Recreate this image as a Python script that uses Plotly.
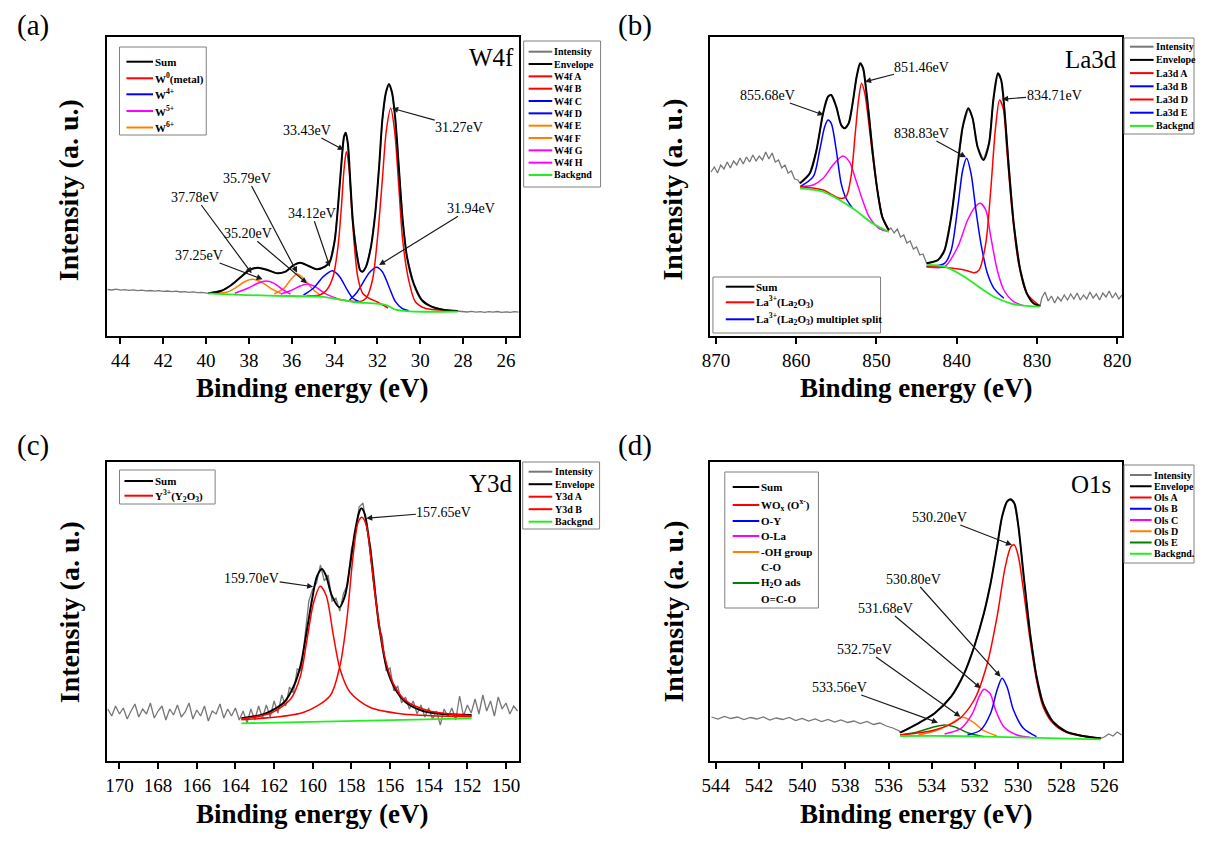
import plotly.graph_objects as go

# ===================== DATA =====================
# ---- Panel (a) W4f (x: binding energy eV, y: intensity a.u.) ----
A_INT_LEFT_X = [44.6, 44.4, 44.2, 44.0, 43.8, 43.6, 43.4, 43.2, 43.0, 42.8, 42.6, 42.4,
                42.2, 42.0, 41.8, 41.6, 41.4, 41.2, 41.0, 40.8, 40.6, 40.4, 40.2, 40.0]
A_INT_LEFT_Y = [46.5, 46.0, 46.8, 45.8, 46.3, 45.6, 46.1, 45.3, 45.9, 45.1, 45.5, 44.8,
                45.3, 44.6, 45.0, 44.3, 44.8, 44.0, 44.4, 43.7, 44.1, 43.3, 43.6, 43.0]
A_INT_RIGHT_X = [28.0, 27.8, 27.6, 27.4, 27.2, 27.0, 26.8, 26.6, 26.4, 26.2, 26.0, 25.8, 25.6, 25.4]
A_INT_RIGHT_Y = [24.5, 24.0, 24.6, 23.9, 24.4, 23.7, 24.3, 23.8, 24.5, 23.6, 24.2, 23.7, 24.3, 23.8]
A_ENV_X = [39.89, 39.28, 38.82, 38.36, 37.97, 37.59, 37.13, 36.67, 36.29, 35.90, 35.60, 35.21,
           34.83, 34.45, 34.22, 33.99, 33.84, 33.68, 33.56, 33.48, 33.38, 33.27, 33.15, 32.99,
           32.81, 32.69, 32.53, 32.30, 32.10, 31.92, 31.77, 31.61, 31.46, 31.31, 31.16, 31.00,
           30.82, 30.62, 30.31, 29.93, 29.47, 28.86, 28.24]
A_ENV_Y = [42.7, 45.3, 51.0, 59.3, 66.0, 68.3, 66.0, 62.7, 64.3, 71.0, 73.3, 70.0,
           66.7, 69.3, 74.3, 96.0, 129.3, 172.7, 199.3, 203.3, 192.7, 156.0, 116.0, 86.0,
           66.0, 64.3, 69.3, 89.3, 122.7, 169.3, 216.0, 242.7, 252.0, 242.7, 216.0, 169.3,
           116.0, 79.3, 52.7, 36.0, 29.3, 26.0, 25.0]
A_W4F_A_X = [34.0, 32.84, 32.53, 32.23, 31.99, 31.77, 31.58, 31.38, 31.20, 31.00, 30.82, 30.54, 30.23, 29.77, 29.16, 28.24]
A_W4F_A_Y = [37.5, 34.3, 37.7, 56.0, 99.3, 156.0, 206.0, 227.7, 206.0, 149.3, 96.0, 56.0, 34.3, 27.7, 26.0, 25.0]
A_W4F_B_X = [35.3, 34.68, 34.37, 34.07, 33.84, 33.68, 33.56, 33.45, 33.33, 33.21, 33.07, 32.92, 32.69, 32.38, 32.0, 31.5]
A_W4F_B_Y = [40.5, 41.0, 46.0, 59.3, 89.3, 129.3, 166.0, 184.3, 169.3, 129.3, 89.3, 59.3, 42.7, 37.7, 34.0, 28.0]
A_W4F_C_X = [33.30, 32.99, 32.69, 32.38, 32.04, 31.77, 31.46, 31.16, 30.85, 30.54]
A_W4F_C_Y = [36.0, 42.7, 52.7, 63.3, 68.7, 64.3, 49.3, 34.3, 27.7, 25.3]
A_W4F_D_X = [35.45, 34.99, 34.53, 34.10, 33.76, 33.45, 33.14, 32.84]
A_W4F_D_Y = [41.0, 47.7, 59.3, 65.3, 59.3, 47.7, 37.7, 34.3]
A_W4F_E_X = [39.5, 39.0, 38.66, 38.20, 37.82, 37.44, 36.98, 36.52]
A_W4F_E_Y = [42.8, 44.0, 47.7, 54.3, 56.7, 54.3, 47.7, 42.7]
A_W4F_F_X = [36.82, 36.36, 36.06, 35.75, 35.45, 35.06, 34.68]
A_W4F_F_Y = [42.0, 47.7, 56.0, 62.0, 57.7, 47.7, 41.0]
A_W4F_G_X = [38.66, 38.05, 37.59, 37.21, 36.82, 36.44, 36.06]
A_W4F_G_Y = [42.7, 47.7, 52.7, 55.0, 52.7, 46.7, 42.0]
A_W4F_H_X = [36.52, 36.06, 35.60, 35.29, 34.91, 34.45, 33.91]
A_W4F_H_Y = [42.0, 45.3, 50.0, 52.0, 49.3, 42.7, 37.7]
A_BG_X = [39.89, 37.13, 34.70, 33.80, 33.10, 31.60, 31.20, 30.50, 28.24]
A_BG_Y = [42.7, 40.3, 39.3, 36.7, 34.0, 31.0, 26.7, 24.7, 24.3]
A_PEAK_LABELS = ["31.27eV", "33.43eV", "35.79eV", "37.78eV", "34.12eV", "35.20eV", "37.25eV", "31.94eV"]

# ---- Panel (b) La3d ----
B_INT_LEFT_X = [870.6, 870.2, 869.8, 869.4, 869.0, 868.6, 868.2, 867.8, 867.4, 867.0, 866.6, 866.2, 865.8, 865.4,
                865.0, 864.6, 864.2, 863.8, 863.4, 863.0, 862.6, 862.2, 861.8, 861.4, 861.0, 860.6, 860.2, 859.8]
B_INT_LEFT_Y = [164, 169, 163, 171, 167, 174, 168, 175, 171, 178, 172, 179, 174, 181,
                175, 180, 176, 184, 177, 183, 174, 176, 168, 171, 163, 165, 157, 156]
B_INT_MID_X = [848.2, 847.8, 847.4, 847.0, 846.6, 846.2, 845.8, 845.4, 845.0, 844.6, 844.2, 843.9]
B_INT_MID_Y = [108, 103, 107, 99, 101, 93, 95, 87, 89, 81, 82, 75]
B_INT_RIGHT_X = [829.4, 829.0, 828.6, 828.2, 827.8, 827.4, 827.0, 826.6, 826.2, 825.8, 825.4, 825.0, 824.6,
                 824.2, 823.8, 823.4, 823.0, 822.6, 822.2, 821.8, 821.4, 821.0, 820.6, 820.2, 819.8, 819.4]
B_INT_RIGHT_Y = [38, 44, 35, 40, 33, 39, 35, 41, 36, 42, 37, 43, 36,
                 41, 37, 44, 38, 42, 36, 43, 39, 45, 38, 43, 37, 41]
B_ENV1_X = [859.52, 858.30, 857.47, 856.65, 856.04, 855.63, 855.01, 854.40, 853.99, 853.46, 852.97,
            852.47, 852.03, 851.66, 851.33, 850.92, 850.51, 849.89, 849.28, 848.47]
B_ENV1_Y = [152.7, 162.7, 186.0, 222.7, 239.3, 241.0, 229.3, 211.0, 207.7, 212.7, 232.7,
            259.3, 272.7, 267.7, 249.3, 219.3, 186.0, 146.0, 119.3, 106.0]
B_ENV2_X = [843.75, 842.33, 841.51, 840.68, 839.86, 839.25, 838.55, 838.02, 837.41, 836.67, 835.97,
            835.44, 834.87, 834.46, 834.05, 833.52, 832.90, 832.08, 831.27, 830.44, 829.62]
B_ENV2_Y = [72.7, 76.0, 86.0, 119.3, 172.7, 209.3, 227.7, 217.7, 189.3, 176.0, 192.7,
            236.0, 262.7, 256.0, 226.0, 169.3, 112.7, 66.0, 42.7, 32.7, 30.0]
B_LA_A_X = [859.52, 856.65, 854.61, 853.79, 853.17, 852.64, 852.23, 851.86, 851.45, 851.00, 850.51, 849.89, 849.28, 848.47]
B_LA_A_Y = [149.3, 146.0, 137.7, 139.3, 159.3, 202.7, 236.0, 252.7, 242.7, 216.0, 182.7, 146.0, 119.3, 105.3]
B_LA_B_X = [859.52, 857.88, 857.07, 856.45, 856.04, 855.63, 855.01, 854.40, 853.79, 852.97]
B_LA_B_Y = [149.3, 159.3, 186.0, 209.3, 216.0, 212.7, 186.0, 152.7, 137.7, 127.7]
B_LA_C_X = [859.52, 857.88, 856.65, 855.42, 854.19, 853.38, 852.56, 851.74, 850.92, 849.69, 848.47]
B_LA_C_Y = [149.3, 151.0, 157.7, 171.0, 180.0, 174.3, 156.0, 136.0, 119.3, 107.7, 104.3]
B_LA_D_X = [843.75, 841.51, 839.05, 837.82, 837.21, 836.38, 835.76, 835.15, 834.66, 834.21, 833.72, 833.11, 832.29, 831.27, 829.62]
B_LA_D_Y = [70.0, 68.7, 66.0, 63.3, 66.0, 92.7, 146.0, 209.3, 236.0, 227.7, 182.7, 126.0, 72.7, 42.7, 30.0]
B_LA_E_X = [843.75, 841.51, 840.68, 839.86, 839.25, 838.76, 838.22, 837.61, 836.99, 836.18, 835.36, 834.13]
B_LA_E_Y = [69.3, 72.7, 86.0, 129.3, 166.0, 177.7, 162.7, 126.0, 92.7, 62.7, 47.7, 37.7]
B_LA_F_X = [843.75, 841.51, 839.86, 838.64, 837.61, 837.08, 836.38, 835.76, 834.95, 834.13, 832.90, 831.67]
B_LA_F_Y = [69.3, 69.3, 89.3, 116.0, 130.0, 132.7, 126.0, 99.3, 66.0, 46.0, 34.3, 30.3]
B_BG1_X = [859.52, 856.65, 852.97, 850.51, 848.47]
B_BG1_Y = [147.7, 144.3, 127.7, 112.7, 104.3]
B_BG2_X = [843.75, 841.51, 839.05, 836.99, 835.36, 833.31, 831.67, 829.62]
B_BG2_Y = [71.0, 69.3, 59.3, 47.7, 39.3, 32.7, 30.3, 29.3]
B_PEAK_LABELS = ["851.46eV", "855.68eV", "834.71eV", "838.83eV"]

# ---- Panel (c) Y3d ----
C_INT_LEFT_X = [170.6, 170.4, 170.2, 170.0, 169.8, 169.6, 169.4, 169.2, 169.0, 168.8, 168.6, 168.4,
                168.2, 168.0, 167.8, 167.6, 167.4, 167.2, 167.0, 166.8, 166.6, 166.4, 166.2, 166.0,
                165.8, 165.6, 165.4, 165.2, 165.0, 164.8, 164.6, 164.4, 164.2, 164.0, 163.8]
C_INT_LEFT_Y = [52, 45, 55, 47, 53, 42, 50, 57, 44, 52, 47, 58,
                43, 50, 55, 41, 52, 46, 56, 44, 49, 58, 42, 51,
                45, 55, 40, 50, 47, 57, 43, 52, 45, 53, 41]
C_INT_PEAK_X = [163.6, 163.4, 163.2, 163.0, 162.8, 162.6, 162.4, 162.2, 162.0, 161.8,
                161.6, 161.4, 161.2, 161.0, 160.8, 160.6, 160.4, 160.2, 160.0, 159.8,
                159.6, 159.4, 159.2, 159.0, 158.8, 158.6, 158.4, 158.2, 158.0, 157.8,
                157.6, 157.4, 157.2, 157.0, 156.8, 156.6, 156.4, 156.2, 156.0, 155.8,
                155.6, 155.4, 155.2, 155.0, 154.8, 154.6, 154.4, 154.2, 154.0, 153.8,
                153.6, 153.4, 153.2, 153.0, 152.8, 152.6, 152.4, 152.2, 152.0]
C_INT_PEAK_Y = [50, 38, 52, 41, 55, 43, 56, 44, 60, 48,
                66, 55, 74, 68, 92, 90, 128, 160, 172, 178,
                196, 180, 186, 160, 163, 150, 168, 176, 212, 226,
                254, 258, 232, 214, 180, 135, 124, 90, 93, 70,
                75, 58, 64, 52, 60, 47, 56, 44, 53, 42,
                50, 36, 52, 44, 53, 41, 65, 45, 56]
C_INT_RIGHT_X = [151.8, 151.6, 151.4, 151.2, 151.0, 150.8, 150.6, 150.4, 150.2, 150.0, 149.8, 149.6, 149.4]
C_INT_RIGHT_Y = [48, 62, 47, 66, 50, 60, 45, 64, 52, 58, 47, 55, 50]
C_ENV_X = [163.69, 162.50, 161.48, 160.97, 160.63, 160.29, 160.03, 159.78, 159.52, 159.30, 159.01, 158.62,
           158.33, 158.07, 157.82, 157.60, 157.48, 157.31, 157.05, 156.80, 156.54, 156.20, 155.78, 155.19,
           154.33, 153.31, 151.78]
C_ENV_Y = [42.7, 47.0, 58.7, 75.3, 95.3, 132.0, 162.0, 184.7, 192.0, 184.7, 165.3, 153.7,
           165.3, 195.3, 228.7, 248.7, 252.7, 247.0, 215.3, 172.0, 132.0, 95.3, 73.7, 58.7,
           50.3, 47.0, 46.0]
C_Y3D_A_X = [163.69, 162.16, 161.14, 160.63, 160.29, 159.95, 159.61, 159.30, 158.93, 158.59, 158.07, 157.05, 155.35, 151.78]
C_Y3D_A_Y = [42.0, 48.0, 62.0, 85.3, 122.0, 158.7, 174.7, 165.3, 125.3, 92.0, 68.7, 53.7, 47.0, 44.3]
C_Y3D_B_X = [163.69, 160.46, 159.10, 158.59, 158.25, 157.91, 157.65, 157.45, 157.22, 156.97, 156.63, 156.29, 155.86, 155.19, 154.00, 151.78]
C_Y3D_B_Y = [41.3, 48.7, 65.3, 95.3, 138.7, 205.3, 238.7, 243.7, 235.3, 198.7, 145.3, 105.3, 78.7, 60.3, 50.3, 45.3]
C_BG_X = [163.69, 151.78]
C_BG_Y = [37.7, 42.7]
C_PEAK_LABELS = ["157.65eV", "159.70eV"]

# ---- Panel (d) O1s ----
D_INT_LEFT_X = [544.2, 543.9, 543.6, 543.3, 543.0, 542.7, 542.4, 542.1, 541.8, 541.5, 541.2, 540.9, 540.6, 540.3, 540.0,
                539.7, 539.4, 539.1, 538.8, 538.5, 538.2, 537.9, 537.6, 537.3, 537.0, 536.7, 536.4, 536.1, 535.8, 535.5]
D_INT_LEFT_Y = [44, 42, 44.5, 42.5, 44, 41.5, 43.5, 42, 44, 41, 43, 41.5, 43.5, 40.5, 42.5,
                40, 42, 39.5, 41.5, 39, 41, 38.5, 40, 37.5, 39.5, 36.5, 38, 35, 33, 30]
D_INT_RIGHT_X = [526.0, 525.8, 525.6, 525.4, 525.2]
D_INT_RIGHT_Y = [24, 27, 25, 29, 26]
D_ENV_X = [535.46, 534.62, 533.86, 533.10, 532.49, 532.03, 531.58, 531.27, 530.97, 530.74, 530.51,
           530.36, 530.17, 529.98, 529.75, 529.44, 529.14, 528.84, 528.38, 527.77, 527.01, 526.17]
D_ENV_Y = [28.3, 37.7, 47.7, 64.3, 87.7, 114.3, 147.7, 177.7, 214.3, 244.3, 259.3,
           261.7, 257.7, 234.3, 187.7, 127.7, 84.3, 57.7, 39.3, 29.3, 25.0, 22.7]
D_OLS_A_X = [535.46, 533.86, 532.79, 532.03, 531.42, 530.97, 530.59, 530.33, 530.17, 529.98, 529.75, 529.44, 529.14, 528.84, 528.38, 527.77, 526.17]
D_OLS_A_Y = [26.0, 31.0, 41.0, 61.0, 97.7, 144.3, 194.3, 214.3, 216.0, 204.3, 171.0, 121.0, 81.0, 54.3, 37.7, 28.7, 22.7]
D_OLS_B_X = [532.34, 531.73, 531.27, 530.97, 530.74, 530.51, 530.21, 529.75, 529.14]
D_OLS_B_Y = [26.0, 31.0, 47.7, 71.0, 82.7, 74.3, 51.0, 32.7, 24.3]
D_OLS_C_X = [533.40, 532.64, 532.11, 531.80, 531.58, 531.30, 531.04, 530.66, 530.05, 529.44]
D_OLS_C_Y = [27.0, 32.7, 47.7, 64.3, 71.7, 67.7, 51.0, 34.3, 26.0, 23.7]
D_OLS_D_X = [534.62, 533.71, 533.10, 532.57, 532.11, 531.58, 530.97]
D_OLS_D_Y = [26.0, 31.0, 37.7, 43.7, 39.3, 30.3, 25.0]
D_OLS_E_X = [535.46, 534.62, 533.86, 533.40, 532.95, 532.34, 531.58]
D_OLS_E_Y = [26.0, 29.3, 34.3, 36.0, 34.3, 28.3, 24.3]
D_BG_X = [535.46, 533.10, 530.05, 526.17]
D_BG_Y = [25.0, 25.0, 23.7, 21.7]
D_PEAK_LABELS = ["530.20eV", "530.80eV", "531.68eV", "532.75eV", "533.56eV"]

# Legend texts
A_LEFT_LEGEND = ["Sum", "W<sup>0</sup>(metal)", "W<sup>4+</sup>", "W<sup>5+</sup>", "W<sup>6+</sup>"]
A_RIGHT_NAMES = ["Intensity", "Envelope", "W4f A", "W4f B", "W4f C", "W4f D", "W4f E", "W4f F", "W4f G", "W4f H", "Backgnd"]
B_LEFT_LEGEND = ["Sum", "La<sup>3+</sup>(La<sub>2</sub>O<sub>3</sub>)",
                 "La<sup>3+</sup>(La<sub>2</sub>O<sub>3</sub>) multiplet split"]
B_RIGHT_NAMES = ["Intensity", "Envelope", "La3d A", "La3d B", "La3d D", "La3d E", "Backgnd"]
C_LEFT_LEGEND = ["Sum", "Y<sup>3+</sup>(Y<sub>2</sub>O<sub>3</sub>)"]
C_RIGHT_NAMES = ["Intensity", "Envelope", "Y3d A", "Y3d B", "Backgnd"]
D_LEFT_LEGEND = ["Sum", "WO<sub>x</sub> (O<sup>x-</sup>)", "O-Y", "O-La", "-OH group", "C-O",
                 "H<sub>2</sub>O ads", "O=C-O"]
D_RIGHT_NAMES = ["Intensity", "Envelope", "Ols A", "Ols B", "Ols C", "Ols D", "Ols E", "Backgnd."]

# ===================== STYLE / LAYOUT =====================
# The page body has an 8px margin, so the figure is drawn 8px in from the window edge.
OFF = 8
W, H = 1212 - 2 * OFF, 841 - 2 * OFF
FONT = "Liberation Serif, Times New Roman, serif"
RED, BLUE, MAG, ORANGE = "#ff0000", "#0000ff", "#ff00ff", "#ff8000"
LIME, DKGREEN, GRAY, BLACK = "#22ee22", "#008000", "#777777", "#000000"


def PX(px):
    return (px - OFF) / W


def PY(py):
    return 1 - (py - OFF) / H


PANELS = {
    "a": dict(xa="x", ya="y", xpx=(100, 518), ypx=(37, 336), xr=[44.64, 25.4], dtick=2),
    "b": dict(xa="x2", ya="y2", xpx=(712, 1130), ypx=(37, 336), xr=[870.74, 819.4], dtick=10),
    "c": dict(xa="x3", ya="y3", xpx=(100, 518), ypx=(462, 761), xr=[170.66, 149.34], dtick=2),
    "d": dict(xa="x4", ya="y4", xpx=(712, 1130), ypx=(462, 761), xr=[544.27, 525.18], dtick=2),
}

fig = go.Figure()


def curve(p, x, y, color, width, shape="spline"):
    P = PANELS[p]
    fig.add_trace(go.Scatter(x=x, y=y, mode="lines",
                             line=dict(color=color, width=width, shape=shape, smoothing=0.8),
                             xaxis=P["xa"], yaxis=P["ya"], showlegend=False, hoverinfo="skip"))


# (a)
curve("a", A_INT_LEFT_X + A_ENV_X + A_INT_RIGHT_X, A_INT_LEFT_Y + A_ENV_Y + A_INT_RIGHT_Y, GRAY, 1.3, "linear")
for xs, ys, c in [(A_W4F_E_X, A_W4F_E_Y, ORANGE), (A_W4F_F_X, A_W4F_F_Y, ORANGE),
                  (A_W4F_G_X, A_W4F_G_Y, MAG), (A_W4F_H_X, A_W4F_H_Y, MAG),
                  (A_W4F_C_X, A_W4F_C_Y, BLUE), (A_W4F_D_X, A_W4F_D_Y, BLUE),
                  (A_W4F_A_X, A_W4F_A_Y, RED), (A_W4F_B_X, A_W4F_B_Y, RED)]:
    curve("a", xs, ys, c, 1.5)
curve("a", A_ENV_X, A_ENV_Y, BLACK, 2)
curve("a", A_BG_X, A_BG_Y, LIME, 1.8)

# (b)
curve("b", B_INT_LEFT_X + B_ENV1_X + B_INT_MID_X + B_ENV2_X + B_INT_RIGHT_X,
      B_INT_LEFT_Y + B_ENV1_Y + B_INT_MID_Y + B_ENV2_Y + B_INT_RIGHT_Y, GRAY, 1.3, "linear")
for xs, ys, c in [(B_LA_C_X, B_LA_C_Y, MAG), (B_LA_F_X, B_LA_F_Y, MAG),
                  (B_LA_B_X, B_LA_B_Y, BLUE), (B_LA_E_X, B_LA_E_Y, BLUE),
                  (B_LA_A_X, B_LA_A_Y, RED), (B_LA_D_X, B_LA_D_Y, RED)]:
    curve("b", xs, ys, c, 1.5)
curve("b", B_ENV1_X + [None] + B_ENV2_X, B_ENV1_Y + [None] + B_ENV2_Y, BLACK, 2)
curve("b", B_BG1_X + [None] + B_BG2_X, B_BG1_Y + [None] + B_BG2_Y, LIME, 1.8)

# (c)
curve("c", C_INT_LEFT_X + C_INT_PEAK_X + C_INT_RIGHT_X, C_INT_LEFT_Y + C_INT_PEAK_Y + C_INT_RIGHT_Y, GRAY, 1.3, "linear")
curve("c", C_ENV_X, C_ENV_Y, BLACK, 2)
curve("c", C_Y3D_A_X, C_Y3D_A_Y, RED, 1.5)
curve("c", C_Y3D_B_X, C_Y3D_B_Y, RED, 1.5)
curve("c", C_BG_X, C_BG_Y, LIME, 1.8, "linear")

# (d)
curve("d", D_INT_LEFT_X + D_ENV_X + D_INT_RIGHT_X, D_INT_LEFT_Y + D_ENV_Y + D_INT_RIGHT_Y, GRAY, 1.3, "linear")
for xs, ys, c in [(D_OLS_E_X, D_OLS_E_Y, DKGREEN), (D_OLS_D_X, D_OLS_D_Y, ORANGE),
                  (D_OLS_C_X, D_OLS_C_Y, MAG), (D_OLS_B_X, D_OLS_B_Y, BLUE),
                  (D_OLS_A_X, D_OLS_A_Y, RED)]:
    curve("d", xs, ys, c, 1.5)
curve("d", D_ENV_X, D_ENV_Y, BLACK, 2)
curve("d", D_BG_X, D_BG_Y, LIME, 1.8)

# ---- axes ----
layout = dict(width=W, height=H, margin=dict(l=0, r=0, t=0, b=0),
              paper_bgcolor="white", plot_bgcolor="white", showlegend=False,
              font=dict(family=FONT, color="black", size=14))
for p, P in PANELS.items():
    xk = "xaxis" + P["xa"][1:]
    yk = "yaxis" + P["ya"][1:]
    layout[xk] = dict(domain=[PX(P["xpx"][0]), PX(P["xpx"][1])], range=P["xr"], anchor=P["ya"],
                      showline=True, linecolor="black", linewidth=2, mirror=True,
                      ticks="outside", ticklen=6, tickwidth=1.5, tickcolor="black",
                      dtick=P["dtick"], tick0=0, showgrid=False, zeroline=False,
                      tickfont=dict(family=FONT, size=19, color="black"))
    layout[yk] = dict(domain=[PY(P["ypx"][1]), PY(P["ypx"][0])], range=[0, 299], anchor=P["xa"],
                      showline=True, linecolor="black", linewidth=2, mirror=True,
                      ticks="", showticklabels=False, showgrid=False, zeroline=False)
fig.update_layout(**layout)

# ---- annotations: peak labels with arrows (label centre -> peak) ----
ARROWS = {
    "a": [((28.18, 209), (31.31, 227.7)),
          ((35.31, 206), (33.57, 186)),
          ((38.07, 158), (35.75, 63.3)),
          ((40.50, 139), (37.87, 62.7)),
          ((35.07, 122.7), (34.22, 69.3)),
          ((38.05, 102.7), (35.29, 52.7)),
          ((40.35, 81), (37.36, 56.7)),
          ((27.63, 127.7), (31.92, 71))],
    "b": [((844.33, 269), (851.42, 254.3)),
          ((863.61, 241), (856.58, 221)),
          ((827.87, 241), (834.34, 236.7)),
          ((844.33, 203), (838.84, 178.7))],
    "c": [((153.21, 249), (157.23, 242.7)),
          ((163.16, 183), (159.98, 174.3))],
    "d": [((533.63, 244), (530.28, 216)),
          ((534.86, 182), (530.81, 84.3)),
          ((536.14, 153), (531.73, 72.7)),
          ((537.10, 112), (532.67, 44.3)),
          ((538.29, 74), (533.71, 38.3))],
}
LABELS = {"a": A_PEAK_LABELS, "b": B_PEAK_LABELS, "c": C_PEAK_LABELS, "d": D_PEAK_LABELS}
for p, items in ARROWS.items():
    P = PANELS[p]
    for (txt_pos, tip), lab in zip(items, LABELS[p]):
        fig.add_annotation(x=tip[0], y=tip[1], ax=txt_pos[0], ay=txt_pos[1], xref=P["xa"], yref=P["ya"],
                           axref=P["xa"], ayref=P["ya"], text=lab, showarrow=True, arrowhead=2,
                           arrowsize=1, arrowwidth=1.2, arrowcolor="#1a1a1a", standoff=0,
                           borderpad=0, font=dict(family=FONT, size=14, color="black"))


def ptext(px, py, text, size, bold=False, angle=0, xanchor="center", yanchor="middle"):
    fig.add_annotation(x=PX(px), y=PY(py), xref="paper", yref="paper",
                       text=("<b>%s</b>" % text) if bold else text, showarrow=False,
                       textangle=angle, xanchor=xanchor, yanchor=yanchor, borderpad=0,
                       font=dict(family=FONT, size=size, color="black"))


# panel letters (top-anchored so they stay inside the page), element titles, axis titles
for (px, py, t) in [(25, 8, "(a)"), (636, 8, "(b)"), (25, 428, "(c)"), (636, 428, "(d)")]:
    ptext(px, py, t, 29, yanchor="top")
for (px, py, t) in [(490, 57, "W4f"), (1099, 60, "La3d"), (490, 483, "Y3d"), (1098, 484, "O1s")]:
    ptext(px, py, t, 25)
for (px, py) in [(309, 388), (921, 388), (309, 814), (921, 814)]:
    ptext(px, py, "Binding energy (eV)", 27, bold=True)
for (px, py) in [(62, 190), (674, 190), (62, 612), (674, 612)]:
    ptext(px, py, "Intensity (a. u.)", 28, bold=True, angle=-90)


# ---- hand-built legends ----
def legend(box, line_x, text_x, entries, size):
    x0, y0, x1, y1 = box
    fig.add_shape(type="rect", xref="paper", yref="paper", x0=PX(x0), x1=PX(x1), y0=PY(y1), y1=PY(y0),
                  line=dict(color="#808080", width=1), fillcolor="white", layer="above")
    for name, color, py in entries:
        if color is not None:
            fig.add_shape(type="line", xref="paper", yref="paper", x0=PX(line_x[0]), x1=PX(line_x[1]),
                          y0=PY(py), y1=PY(py), line=dict(color=color, width=2), layer="above")
        ptext(text_x, py, name, size, bold=True, xanchor="left")


def even(top, step, n):
    return [top + i * step for i in range(n)]


legend((113, 47, 201, 135), (120, 147), 148,
       list(zip(A_LEFT_LEGEND, [BLACK, RED, BLUE, MAG, ORANGE], [61.7, 78.3, 94.3, 111, 127.5])), 11)
legend((523, 41, 601, 187), (528, 552), 553,
       list(zip(A_RIGHT_NAMES, [GRAY, BLACK, RED, RED, BLUE, BLUE, ORANGE, ORANGE, MAG, MAG, LIME],
                even(51.7, 12.33, 11))), 10)
legend((715, 277, 885, 333), (728, 757), 758,
       list(zip(B_LEFT_LEGEND, [BLACK, RED, BLUE], [286.7, 302.3, 319.3])), 11)
legend((1132, 38, 1203, 134), (1138, 1162), 1163,
       list(zip(B_RIGHT_NAMES, [GRAY, BLACK, RED, BLUE, RED, BLUE, LIME], even(46.7, 13.2, 7))), 10)
legend((113, 470, 210, 504), (118, 147), 148,
       list(zip(C_LEFT_LEGEND, [BLACK, RED], [481, 495.7])), 11)
legend((522, 462, 600, 529), (528, 552), 554,
       list(zip(C_RIGHT_NAMES, [GRAY, BLACK, RED, RED, LIME], even(471.7, 12.5, 5))), 10)
legend((727, 472, 822, 608), (735, 762), 763,
       list(zip(D_LEFT_LEGEND, [BLACK, RED, BLUE, MAG, ORANGE, None, DKGREEN, None],
                [487, 505, 521, 536, 552, 567, 583, 599])), 11)
legend((1132, 465, 1203, 563), (1138, 1160), 1161,
       list(zip(D_RIGHT_NAMES, [GRAY, BLACK, RED, BLUE, MAG, ORANGE, DKGREEN, LIME], even(475, 11.25, 8))), 10)

fig.write_html("out.html")
